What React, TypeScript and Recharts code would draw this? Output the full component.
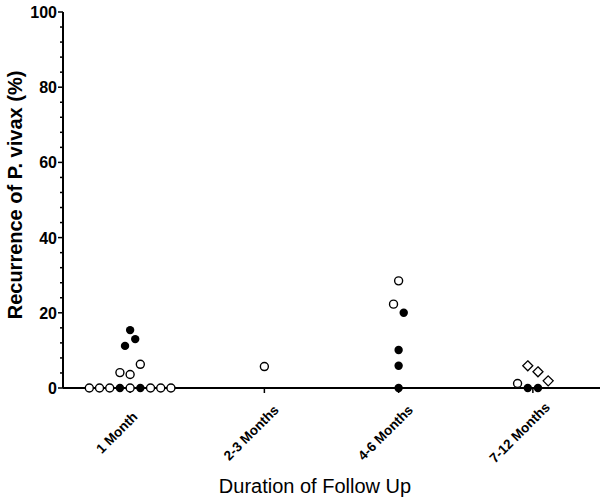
import { ScatterChart, Scatter, XAxis, YAxis } from "recharts";

const categories = ["1 Month", "2-3 Months", "4-6 Months", "7-12 Months"];

// [category index, jitter slot, recurrence %]
const openCircles = [
  [0, -4, 0], [0, -3, 0], [0, -2, 0], [0, 0, 0], [0, 2, 0], [0, 3, 0], [0, 4, 0],
  [0, -1, 4.1], [0, 0, 3.6], [0, 1, 6.3],
  [1, 0, 5.7],
  [2, 0, 28.5], [2, -0.5, 22.3],
  [3, -1.5, 1.2],
];
const filledCircles = [
  [0, -1, 0], [0, 1, 0], [0, 0, 15.4], [0, 0.5, 13.0], [0, -0.5, 11.2],
  [2, 0.5, 20.0], [2, 0, 10.1], [2, 0, 5.9], [2, 0, 0],
  [3, -0.5, 0], [3, 0.5, 0],
];
const openDiamonds = [
  [3, -0.5, 5.9], [3, 0.5, 4.3], [3, 1.5, 1.9],
];

const yTicks = [0, 4, 8, 12, 16, 20, 24, 28, 32, 36, 40, 44, 48, 52, 56, 60, 64, 68, 72, 76, 80, 84, 88, 92, 96, 100];
const SLOT = 0.076;

const toPoints = (rows: number[][]) =>
  rows.map(([c, s, v]) => ({ x: c + 0.5 + s * SLOT, y: v }));

const FONT = "'Liberation Sans', Arial, sans-serif";

const OpenCircle = (p: any) => (
  <circle cx={p.cx} cy={p.cy} r={4} fill="#fff" stroke="#000" strokeWidth={1.4} />
);
const FilledCircle = (p: any) => <circle cx={p.cx} cy={p.cy} r={4.2} fill="#000" />;
const OpenDiamond = (p: any) => (
  <polygon
    points={`${p.cx},${p.cy - 5} ${p.cx + 5},${p.cy} ${p.cx},${p.cy + 5} ${p.cx - 5},${p.cy}`}
    fill="#fff"
    stroke="#000"
    strokeWidth={1.3}
  />
);

const YTick = ({ x, y, payload }: any) => {
  const major = payload.value % 20 === 0;
  return (
    <g>
      <line x1={x - (major ? 5 : 3)} x2={x} y1={y} y2={y} stroke="#000" strokeWidth={1.5} />
      {major && (
        <text x={x - 6} y={y + 6} textAnchor="end" fontFamily={FONT} fontWeight="bold" fontSize={16} fill="#000">
          {payload.value}
        </text>
      )}
    </g>
  );
};

const XTick = ({ x, y, payload }: any) => {
  const label = categories[Math.round(payload.value - 0.5)];
  const tx = x - 10;
  const ty = y + 43;
  return (
    <text
      x={tx}
      y={ty}
      textAnchor="middle"
      transform={`rotate(-45, ${tx}, ${ty})`}
      fontFamily={FONT}
      fontWeight="bold"
      fontSize={13.5}
      fill="#000"
    >
      {label}
    </text>
  );
};

export default function App() {
  return (
    <div style={{ position: "absolute", left: 0, top: 0, width: 600, height: 502, background: "#fff" }}>
      <ScatterChart width={600} height={502} margin={{ top: 12, right: 0, left: 8, bottom: 0 }}>
        <XAxis
          type="number"
          dataKey="x"
          domain={[0, 4]}
          ticks={[0.5, 1.5, 2.5, 3.5]}
          height={114}
          tick={<XTick />}
          tickSize={5}
          tickMargin={0}
          axisLine={{ stroke: "#000", strokeWidth: 2 }}
          tickLine={{ stroke: "#000", strokeWidth: 1.5 }}
          label={{
            content: () => (
              <text x={315} y={493} textAnchor="middle" fontFamily={FONT} fontSize={20} fill="#000">
                Duration of Follow Up
              </text>
            ),
          }}
        />
        <YAxis
          type="number"
          dataKey="y"
          domain={[0, 100]}
          ticks={yTicks}
          interval={0}
          width={55}
          tick={<YTick />}
          tickSize={0}
          tickMargin={0}
          tickLine={false}
          axisLine={{ stroke: "#000", strokeWidth: 2 }}
          label={{
            content: () => (
              <text
                x={22}
                y={195}
                textAnchor="middle"
                transform="rotate(-90, 22, 195)"
                fontFamily={FONT}
                fontWeight="bold"
                fontSize={20}
                fill="#000"
              >
                Recurrence of P. vivax (%)
              </text>
            ),
          }}
        />
        <Scatter data={toPoints(openCircles)} shape={<OpenCircle />} isAnimationActive={false} />
        <Scatter data={toPoints(filledCircles)} shape={<FilledCircle />} isAnimationActive={false} />
        <Scatter data={toPoints(openDiamonds)} shape={<OpenDiamond />} isAnimationActive={false} />
      </ScatterChart>
    </div>
  );
}
